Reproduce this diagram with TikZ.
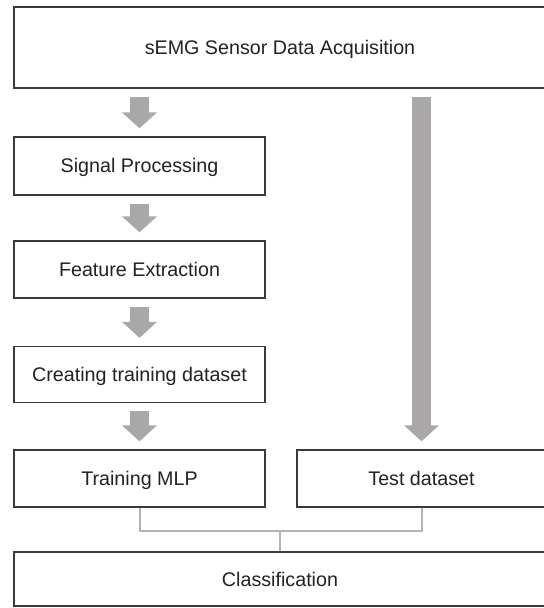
\documentclass[tikz,border=0pt]{standalone}
\usepackage{fontspec}
\setmainfont{Liberation Sans}
\usetikzlibrary{arrows.meta,calc}
\definecolor{arrgray}{HTML}{A9A7A7}
\definecolor{linegray}{HTML}{B4B4B4}
\definecolor{boxline}{HTML}{3A3A3A}
\definecolor{txt}{HTML}{222222}
\begin{document}
\begin{tikzpicture}[x=1bp,y=-1bp,
  box/.style={draw=boxline,line width=1.3bp,fill=white,rectangle,inner sep=0pt,
    text height=14bp,text depth=0bp,
    text=txt,font=\fontsize{19.7bp}{23bp}\selectfont},
  blockarrow/.style={draw=arrgray,line width=19bp,
    -{Triangle[length=16bp,width=34bp,fill=arrgray]},
    shorten <=8bp,shorten >=8bp},
  conn/.style={draw=linegray,line width=2bp}]
\useasboundingbox (0,0) rectangle (544,608);
\clip (0,0) rectangle (544,608);
% nodes
\node[box,minimum width=532bp,minimum height=81bp] (acq) at (280,47.5) {sEMG Sensor Data Acquisition};
\node[box,minimum width=251bp,minimum height=58bp] (sig) at (139.5,166) {Signal Processing};
\node[box,minimum width=251bp,minimum height=57bp] (feat) at (139.5,269.5) {Feature Extraction};
\node[box,minimum width=251bp,minimum height=56bp] (cre) at (139.5,374.5) {Creating training dataset};
\node[box,minimum width=251bp,minimum height=57bp] (train) at (139.5,478.5) {Training MLP};
\node[box,minimum width=249bp,minimum height=57bp] (test) at (421.5,478.5) {Test dataset};
\node[box,minimum width=532bp,minimum height=54bp] (cls) at (280,579) {Classification};
% block arrows
\draw[blockarrow] (acq.south -| sig.north) -- (sig.north);
\draw[blockarrow] (sig.south) -- (feat.north);
\draw[blockarrow] (feat.south) -- (cre.north);
\draw[blockarrow] (cre.south) -- (train.north);
\draw[blockarrow] (acq.south -| test.north) -- (test.north);
% connectors
\coordinate (j) at ($(cls.north)+(0,-20)$);
\draw[conn] (train.south) |- (j) -| (test.south);
\draw[conn] (j) -- (cls.north);
\end{tikzpicture}
\end{document}
